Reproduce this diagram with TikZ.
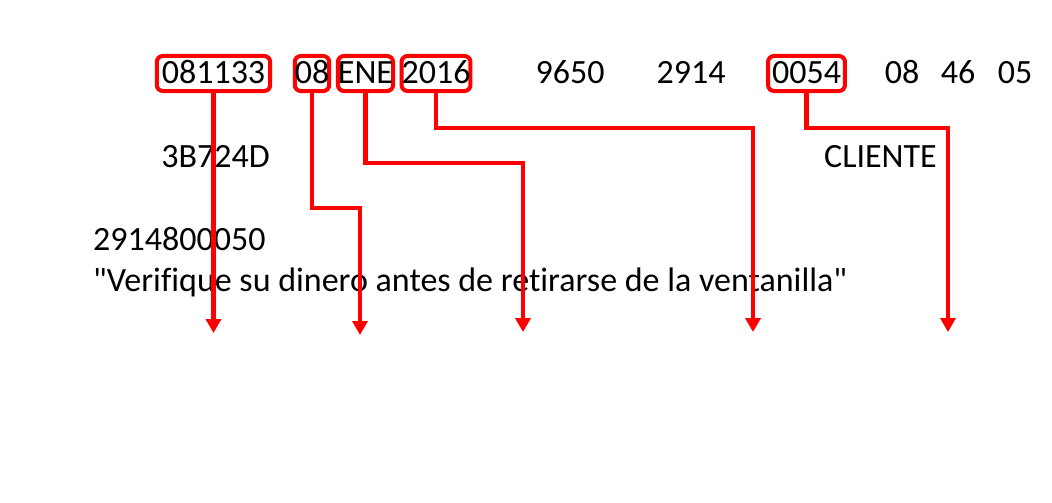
\documentclass[tikz,border=0pt]{standalone}
\usepackage{fontspec}
\setmainfont{Carlito}[Ligatures=NoCommon]
\usetikzlibrary{arrows.meta}
\newcommand{\ticketsize}{\fontsize{34}{40}\selectfont}
\begin{document}
\begin{tikzpicture}
  [x=1pt,y=-1pt,every node/.style={font=\ticketsize,inner sep=0pt,anchor=base}]
  \tikzstyle{field} = [draw=red,line width=4pt,rounded corners=6pt,
    text height=21pt,text depth=0pt,inner ysep=7pt,inner xsep=1pt]
  \tikzstyle{pointer} = [draw=red,line width=4.5pt,-{Triangle[width=15pt,length=14pt]}]
  \useasboundingbox (0,0) rectangle (1052,503);
  % boxed fields
  \node[field,inner xsep=5pt] (folio) at (213.5,84) {081133};
  \node[field,inner xsep=0pt] (dia) at (312,84) {08};
  \node[field,inner xsep=0pt] (mes) at (365.5,84) {ENE};
  \node[field,inner xsep=0pt] (anio) at (436,84) {2016};
  \node[field,inner xsep=4pt] (caja) at (806.5,84) {0054};
  % plain values
  \node (suc) at (570,84) {9650};
  \node (num) at (691,84) {2914};
  \node (hh) at (902,84) {08};
  \node (mm) at (958,84) {46};
  \node (ss) at (1015,84) {05};
  \node (clave) at (215.5,167) {3B724D};
  \node (tipo) at (880.5,167) {CLIENTE};
  \node[anchor=base west] (cuenta) at (93,250) {2914800050};
  \node[anchor=base west] (aviso) at (93,291) {\textquotedbl Verifique su dinero antes de retirarse de la ventanilla\textquotedbl};
  % arrow ends
  \coordinate (t1) at (213.5,333);
  \coordinate (t2) at (360,335);
  \coordinate (t3) at (523,332);
  \coordinate (t4) at (753,332);
  \coordinate (t5) at (948,332);
  \draw[pointer] (folio.south) -- (t1);
\foreach \source /\level /\dest in {dia/208/t2,mes/163/t3,anio/128/t4,caja/128/t5}
   \draw[pointer] (\source.south) -- (\source.south |- 0,\level) -| (\dest);

\end{tikzpicture}
\end{document}
